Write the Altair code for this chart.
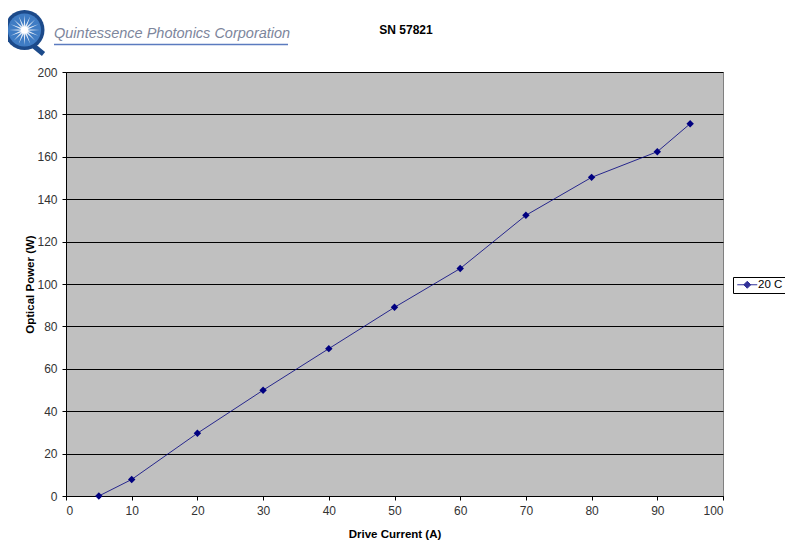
import math
import altair as alt
import pandas as pd

# ---- data ----
drive_current = [5, 10, 20, 30, 40, 50, 60, 70, 80, 90, 95]
optical_power = [0, 7.8, 29.6, 49.9, 69.5, 89.0, 107.3, 132.4, 150.3, 162.4, 175.6]
series_name = ["20 C"] * len(drive_current)

x_ticks = list(range(0, 101, 10))
y_ticks = list(range(0, 201, 20))

title_text = "SN 57821"
logo_text = "Quintessence Photonics Corporation"

df = pd.DataFrame({"I": drive_current, "P": optical_power, "s": series_name})
one = pd.DataFrame({"a": [0]})

NAVY = "#000080"
FONT = "Liberation Sans"

# legend symbol: line with a diamond in the middle
legend_path = "M-2,0H2M0,-0.7L0.7,0L0,0.7L-0.7,0Z"

color = alt.Color(
    "s:N",
    scale=alt.Scale(domain=["20 C"], range=[NAVY]),
    legend=alt.Legend(
        title=None,
        orient="none",
        legendX=667,
        legendY=205,
        symbolType=legend_path,
        symbolSize=100,
        symbolStrokeWidth=1,
        symbolFillColor=NAVY,
        symbolStrokeColor=NAVY,
        labelFont=FONT,
        labelFontSize=11.5,
        labelColor="#000000",
        labelOffset=5,
        padding=2,
        symbolOffset=6.5,
        strokeColor="#000000",
        fillColor="#ffffff",
        cornerRadius=0,
    ),
)

base = alt.Chart(df)

line = base.mark_line(color=NAVY, strokeWidth=1, opacity=0.8).encode(
    x=alt.X(
        "I:Q",
        scale=alt.Scale(domain=[0, 100], nice=False),
        axis=alt.Axis(
            values=x_ticks,
            title="Drive Current (A)",
            grid=False,
            domainColor="#000000",
            tickColor="#000000",
            tickSize=4,
            labelPadding=5,
            labelFont=FONT,
            labelFontSize=12,
            labelColor="#333333",
            titleFont=FONT,
            titleFontSize=11.5,
            titleFontWeight="bold",
            titleColor="#000000",
            titleBaseline="alphabetic",
            titleY=41,
        ),
    ),
    y=alt.Y(
        "P:Q",
        scale=alt.Scale(domain=[0, 200], nice=False),
        axis=alt.Axis(
            values=y_ticks,
            title="Optical Power (W)",
            grid=True,
            gridColor="#000000",
            gridWidth=1,
            domainColor="#000000",
            tickColor="#000000",
            tickSize=4,
            labelPadding=5,
            labelFont=FONT,
            labelFontSize=12,
            labelColor="#333333",
            titleFont=FONT,
            titleFontSize=11.5,
            titleFontWeight="bold",
            titleColor="#000000",
            titleAngle=-90,
            titleBaseline="middle",
            titleAlign="center",
            titleX=-36,
            titleY=212,
        ),
    ),
    color=color,
)

points = base.mark_point(shape="diamond", filled=True, size=55, opacity=1).encode(
    x="I:Q", y="P:Q", color=alt.Color("s:N", scale=alt.Scale(domain=["20 C"], range=[NAVY]), legend=None)
)

# ---- header: title and logo ----
title = alt.Chart(one).mark_text(
    text=title_text, font=FONT, fontSize=12, fontWeight="bold", color="#000000",
    align="center", baseline="alphabetic"
).encode(x=alt.value(340), y=alt.value(-38.5))

logo_label = alt.Chart(one).mark_text(
    text=logo_text, font=FONT, fontSize=14.5, fontStyle="italic", color="#7d869c",
    align="left", baseline="alphabetic"
).encode(x=alt.value(-12), y=alt.value(-34))

underline = alt.Chart(one).mark_rule(color="#5b7bbf", strokeWidth=1.5).encode(
    x=alt.value(-12), x2=alt.value(222), y=alt.value(-27.5)
)

# emblem
n = 16
parts = []
for k in range(n):
    a = 2 * math.pi * k / n
    w = 0.07
    tip = (math.cos(a), math.sin(a))
    p1 = (w * math.cos(a + math.pi / 2), w * math.sin(a + math.pi / 2))
    p2 = (w * math.cos(a - math.pi / 2), w * math.sin(a - math.pi / 2))
    parts.append(f"M{p1[0]:.3f},{p1[1]:.3f}L{tip[0]:.3f},{tip[1]:.3f}L{p2[0]:.3f},{p2[1]:.3f}Z")
star_path = "".join(parts)

EX, EY = -41.5, -42
q_tail = alt.Chart(one).mark_rule(color="#1c4a8a", strokeWidth=5).encode(
    x=alt.value(EX + 8), y=alt.value(EY + 15), x2=alt.value(EX + 19), y2=alt.value(EY + 24)
)
outer = alt.Chart(one).mark_point(shape="circle", filled=True, size=1600, color="#1c4a8a", opacity=1).encode(
    x=alt.value(EX), y=alt.value(EY)
)
inner = alt.Chart(one).mark_point(shape="circle", filled=True, size=1100, color="#3f7cc4", opacity=1).encode(
    x=alt.value(EX), y=alt.value(EY)
)
star = alt.Chart(one).mark_point(shape=star_path, filled=True, size=900, color="#ffffff", opacity=0.85).encode(
    x=alt.value(EX), y=alt.value(EY)
)
glow = alt.Chart(one).mark_point(shape="circle", filled=True, size=50, color="#ffffff", opacity=1).encode(
    x=alt.value(EX), y=alt.value(EY)
)

chart = (
    alt.layer(line, points, title, underline, logo_label, q_tail, outer, inner, star, glow)
    .properties(
        width=657,
        height=424,
        autosize=alt.AutoSizeParams(type="none"),
        padding={"left": 58, "top": 64, "right": 62, "bottom": 44},
        background="#ffffff",
    )
    .configure_view(fill="#c0c0c0", stroke="#808080", strokeWidth=1)
)

chart.save("out.html", embed_options={"renderer": "svg", "actions": False})
